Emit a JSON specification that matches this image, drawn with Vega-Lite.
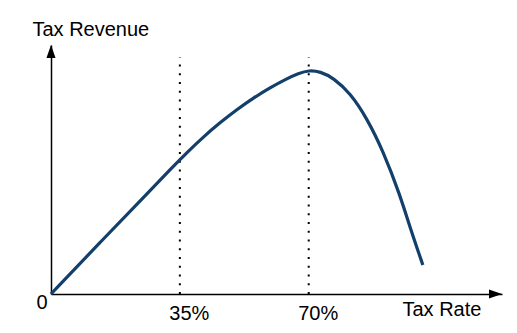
{
  "$schema": "https://vega.github.io/schema/vega-lite/v6.json",
  "width": 451,
  "height": 249,
  "autosize": {"type": "none"},
  "padding": {"left": 51, "top": 45, "right": 15, "bottom": 39},
  "config": {
    "view": {"stroke": null},
    "font": "Liberation Sans"
  },
  "datasets": {
    "curve": [
      {"rate": 0, "revenue": 0},
      {"rate": 13.3, "revenue": 23.1},
      {"rate": 26.9, "revenue": 46.2},
      {"rate": 32.3, "revenue": 55.6},
      {"rate": 36.9, "revenue": 63.3},
      {"rate": 41.4, "revenue": 70.4},
      {"rate": 45.9, "revenue": 76.7},
      {"rate": 50.5, "revenue": 82.6},
      {"rate": 55.0, "revenue": 87.8},
      {"rate": 59.5, "revenue": 92.4},
      {"rate": 64.0, "revenue": 96.4},
      {"rate": 67.2, "revenue": 98.8},
      {"rate": 70.1, "revenue": 100.2},
      {"rate": 73.1, "revenue": 99.6},
      {"rate": 76.7, "revenue": 96.8},
      {"rate": 81.3, "revenue": 89.9},
      {"rate": 85.8, "revenue": 78.7},
      {"rate": 90.3, "revenue": 63.7},
      {"rate": 94.8, "revenue": 44.3},
      {"rate": 97.6, "revenue": 29.4},
      {"rate": 101.0, "revenue": 13.0}
    ],
    "guides": [
      {"rate": 35, "bottom": 0, "top": 106},
      {"rate": 70, "bottom": 0, "top": 106}
    ],
    "arrows": [
      {"axis": "y", "rate": 0, "revenue": 111.5},
      {"axis": "x", "rate": 122.5, "revenue": 0}
    ]
  },
  "layer": [
    {
      "data": {"name": "guides"},
      "mark": {"type": "rule", "color": "black", "strokeWidth": 2, "strokeDash": [2, 6.75]},
      "encoding": {
        "x": {"field": "rate", "type": "quantitative", "scale": {"domain": [0, 122.5], "nice": false, "zero": false}},
        "y": {"field": "bottom", "type": "quantitative", "scale": {"domain": [0, 111.5], "nice": false, "zero": false}},
        "y2": {"field": "top"}
      }
    },
    {
      "data": {"name": "curve"},
      "mark": {"type": "line", "interpolate": "basis", "color": "#13406a", "strokeWidth": 3.2},
      "encoding": {
        "x": {
          "field": "rate", "type": "quantitative",
          "scale": {"domain": [0, 122.5], "nice": false, "zero": false},
          "axis": {
            "values": [35, 70],
            "labelExpr": "datum.value + '%'",
            "ticks": false, "tickSize": 0, "grid": false,
            "domainColor": "black", "domainWidth": 1.5,
            "labelFontSize": 20, "labelColor": "black", "labelFont": "Liberation Sans",
            "labelBaseline": "alphabetic", "labelPadding": 25, "labelOffset": 9,
            "title": "Tax Rate", "titleFontSize": 20, "titleFontWeight": "normal",
            "titleColor": "black", "titleFont": "Liberation Sans",
            "titleAlign": "left", "titleBaseline": "alphabetic",
            "titleX": 351, "titleY": 21, "titleAngle": 0
          }
        },
        "y": {
          "field": "revenue", "type": "quantitative",
          "scale": {"domain": [0, 111.5], "nice": false, "zero": false},
          "axis": {
            "values": [0],
            "labelExpr": "'0'",
            "ticks": false, "tickSize": 0, "grid": false,
            "domainColor": "black", "domainWidth": 1.5,
            "labelFontSize": 20, "labelColor": "black", "labelFont": "Liberation Sans",
            "labelAlign": "right", "labelBaseline": "alphabetic",
            "labelPadding": 4, "labelOffset": 14,
            "title": "Tax Revenue", "titleFontSize": 20, "titleFontWeight": "normal",
            "titleColor": "black", "titleFont": "Liberation Sans",
            "titleAngle": 0, "titleAlign": "left", "titleBaseline": "alphabetic",
            "titleX": -19, "titleY": -10
          }
        }
      }
    },
    {
      "data": {"name": "arrows"},
      "transform": [{"filter": "datum.axis === 'y'"}],
      "mark": {"type": "point", "filled": true, "color": "black", "opacity": 1, "size": 676, "shape": "M0,0L0.35,1L-0.35,1Z"},
      "encoding": {
        "x": {"field": "rate", "type": "quantitative"},
        "y": {"field": "revenue", "type": "quantitative"}
      }
    },
    {
      "data": {"name": "arrows"},
      "transform": [{"filter": "datum.axis === 'x'"}],
      "mark": {"type": "point", "filled": true, "color": "black", "opacity": 1, "size": 676, "shape": "M0,0L-1,-0.35L-1,0.35Z"},
      "encoding": {
        "x": {"field": "rate", "type": "quantitative"},
        "y": {"field": "revenue", "type": "quantitative"}
      }
    }
  ]
}
